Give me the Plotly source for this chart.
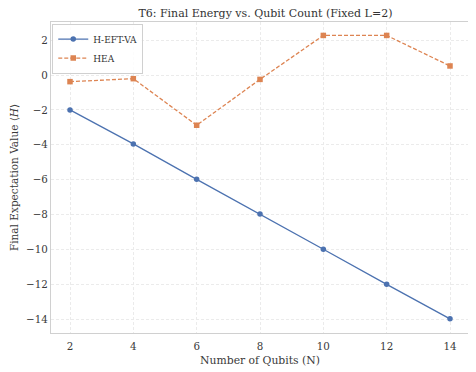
import plotly.graph_objects as go

qubits = [2, 4, 6, 8, 10, 12, 14]
heft_va = [-2.0, -3.95, -5.98, -7.97, -9.99, -12.0, -13.98]
hea = [-0.38, -0.21, -2.88, -0.25, 2.27, 2.27, 0.52]

x_ticks = [2, 4, 6, 8, 10, 12, 14]
y_ticks = [2, 0, -2, -4, -6, -8, -10, -12, -14]

font = "DejaVu Serif"

fig = go.Figure()
fig.add_trace(go.Scatter(
    x=qubits, y=heft_va, name="H-EFT-VA", mode="lines+markers",
    line=dict(color="#4C72B0", width=1.3),
    marker=dict(symbol="circle", size=5.5, color="#4C72B0"),
))
fig.add_trace(go.Scatter(
    x=qubits, y=hea, name="HEA", mode="lines+markers",
    line=dict(color="#DD8452", width=1.3, dash="4px,2px"),
    marker=dict(symbol="square", size=5.5, color="#DD8452"),
))

# page body has an 8px default margin, so the figure is shrunk by that much
fig.update_layout(
    width=468, height=364,
    margin=dict(l=43, r=7, t=14, b=39),
    paper_bgcolor="white", plot_bgcolor="white",
    font=dict(family=font, size=10.3, color="#3a3a3a"),
    title=dict(text="T6: Final Energy vs. Qubit Count (Fixed L=2)",
               x=0.55, xanchor="center", y=0.997, yanchor="top",
               font=dict(size=11, color="#333333"), automargin=False),
    legend=dict(x=0.003, y=0.995, xanchor="left", yanchor="top",
                bgcolor="rgba(255,255,255,0.85)", bordercolor="#d0d0d0", borderwidth=1,
                font=dict(size=9, color="#333333"), tracegroupgap=0, itemwidth=30),
    showlegend=True,
)
fig.update_xaxes(
    range=[1.4, 14.6], tickvals=x_ticks, ticks="", showline=True, mirror=True, automargin=False,
    ticklabelstandoff=4,
    linecolor="#d0d0d0", linewidth=1.2, gridcolor="#ebebeb", griddash="3px,2px", gridwidth=0.8,
    zeroline=False, title=dict(text="Number of Qubits (N)", font=dict(size=10.8), standoff=4),
)
fig.update_yaxes(
    range=[-14.79, 3.04], tickvals=y_ticks, ticktext=[str(v).replace("-", "\u2212") for v in y_ticks],
    ticks="", showline=True, mirror=True, automargin=False,
    linecolor="#d0d0d0", linewidth=1.2, gridcolor="#ebebeb", griddash="3px,2px", gridwidth=0.8,
    zeroline=False, title=dict(text="Final Expectation Value \u27e8<i>H</i>\u27e9", font=dict(size=10.5), standoff=6),
)

fig.write_html("out.html")
